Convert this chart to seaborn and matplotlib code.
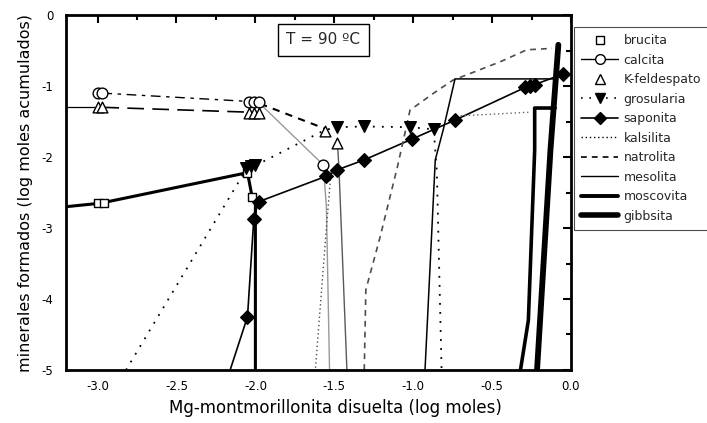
import matplotlib
matplotlib.use("Agg")
import matplotlib.pyplot as plt
import seaborn as sns
from matplotlib.lines import Line2D
from matplotlib.ticker import FixedLocator, FixedFormatter, MultipleLocator

# ---------------- data ----------------
xtick_vals = [-3.0, -2.5, -2.0, -1.5, -1.0, -0.5, 0.0]
xtick_labels = ["-3.0", "-2.5", "-2.0", "-1.5", "-1.0", "-0.5", "0.0"]
ytick_vals = [0, -1, -2, -3, -4, -5]
ytick_labels = ["0", "-1", "-2", "-3", "-4", "-5"]

legend_labels = ["brucita", "calcita", "K-feldespato", "grosularia", "saponita",
                 "kalsilita", "natrolita", "mesolita", "moscovita", "gibbsita"]

brucita_x = [-3.20, -2.98, -2.05, -2.02, -2.00, -2.00]
brucita_y = [-2.70, -2.65, -2.22, -2.57, -2.60, -5.00]
brucita_mx = [-3.00, -2.96, -2.05, -2.02]
brucita_my = [-2.65, -2.65, -2.22, -2.57]

calcita_a_x = [-2.97, -2.02]
calcita_a_y = [-1.10, -1.22]
calcita_b_x = [-1.98, -1.57, -1.55, -1.53]
calcita_b_y = [-1.23, -2.11, -2.70, -5.00]
calcita_mx = [-3.00, -2.97, -2.04, -2.01, -1.98, -1.57]
calcita_my = [-1.10, -1.10, -1.23, -1.23, -1.23, -2.11]

kfeld_a_x = [-3.20, -3.00]
kfeld_a_y = [-1.30, -1.30]
kfeld_b_x = [-2.97, -2.02]
kfeld_b_y = [-1.30, -1.37]
kfeld_c_x = [-1.48, -1.47, -1.42]
kfeld_c_y = [-1.80, -2.18, -5.00]
kfeld_mx = [-3.00, -2.97, -2.04, -2.01, -1.98, -1.56, -1.48]
kfeld_my = [-1.30, -1.30, -1.38, -1.38, -1.38, -1.64, -1.80]

gros_a_x = [-2.82, -2.06]
gros_a_y = [-5.00, -2.18]
gros_b_x = [-2.00, -1.56, -1.48, -1.31, -1.02, -0.87, -0.85, -0.82]
gros_b_y = [-2.12, -1.62, -1.58, -1.57, -1.58, -1.61, -2.20, -5.00]
gros_mx = [-2.06, -2.03, -2.00, -1.48, -1.31, -1.02, -0.87]
gros_my = [-2.16, -2.13, -2.11, -1.58, -1.57, -1.58, -1.61]

sapo_x = [-2.16, -2.05, -2.01, -1.98, -1.55, -1.48, -1.31, -1.01, -0.735,
          -0.29, -0.26, -0.23, -0.05]
sapo_y = [-5.00, -4.25, -2.87, -2.63, -2.27, -2.18, -2.04, -1.75, -1.48,
          -1.02, -1.00, -0.98, -0.83]

kals_a_x = [-1.52, -1.55, -1.62]
kals_a_y = [-2.20, -3.00, -5.00]
kals_b_x = [-0.70, -0.27]
kals_b_y = [-1.42, -1.37]

natro_a_x = [-1.97, -1.56]
natro_a_y = [-1.25, -1.60]
natro_b_x = [-1.31, -1.30, -1.21, -1.10, -1.02, -0.87, -0.75, -0.45, -0.28, -0.12]
natro_b_y = [-5.00, -3.87, -3.13, -2.14, -1.34, -1.10, -0.92, -0.66, -0.49, -0.47]

meso_x = [-0.925, -0.86, -0.81, -0.735, -0.11]
meso_y = [-5.00, -2.04, -1.62, -0.90, -0.90]

mosco_x = [-0.32, -0.27, -0.23, -0.23, -0.10]
mosco_y = [-5.00, -4.30, -1.90, -1.31, -1.31]

gibb_x = [-0.215, -0.13, -0.08]
gibb_y = [-5.00, -1.90, -0.42]

label_text = "T = 90 ºC"
label_pos = (-1.57, -0.35)

# ---------------- styling ----------------
sns.set_style("white")
plt.rcParams["font.family"] = ["DejaVu Sans"]
plt.rcParams["axes.unicode_minus"] = False

fig = plt.figure(figsize=(7.07, 4.23), dpi=100)
ax = fig.add_axes([0.0934, 0.1253, 0.7142, 0.8392])

DOT_SPARSE = (0, (1.0, 4.0))
DOT_FINE = (0, (1, 2))
DASH = (0, (3.5, 3))
LONGDASH = (0, (10, 5))
DASHDOT = (0, (7, 4, 2.5, 4))


def line(x, y, **kw):
    sns.lineplot(x=x, y=y, sort=False, estimator=None, errorbar=None,
                 legend=False, ax=ax, **kw)


def marks(x, y, marker, size, filled):
    fc = "black" if filled else "white"
    sns.scatterplot(x=x, y=y, marker=marker, s=size, facecolor=fc,
                    edgecolor="black", linewidth=1.0, legend=False, ax=ax,
                    zorder=5)


# lines
line(brucita_x, brucita_y, color="black", linewidth=2.2)
line(calcita_a_x, calcita_a_y, color="black", linewidth=1.0, linestyle=DASHDOT)
line(calcita_b_x, calcita_b_y, color="0.6", linewidth=1.0)
line(kfeld_a_x, kfeld_a_y, color="black", linewidth=0.9)
line(kfeld_b_x, kfeld_b_y, color="black", linewidth=1.2, linestyle=LONGDASH)
line(kfeld_c_x, kfeld_c_y, color="0.35", linewidth=1.0)
line(gros_a_x, gros_a_y, color="black", linewidth=1.3, linestyle=DOT_SPARSE)
line(gros_b_x, gros_b_y, color="black", linewidth=1.3, linestyle=DOT_SPARSE)
line(sapo_x, sapo_y, color="black", linewidth=1.2)
line(kals_a_x, kals_a_y, color="0.3", linewidth=1.0, linestyle=DOT_FINE)
line(kals_b_x, kals_b_y, color="0.4", linewidth=1.0, linestyle=DOT_FINE)
line(natro_a_x, natro_a_y, color="black", linewidth=1.5, linestyle=DASH)
line(natro_b_x, natro_b_y, color="0.3", linewidth=1.2, linestyle=DASH)
line(meso_x, meso_y, color="black", linewidth=1.1)
line(mosco_x, mosco_y, color="black", linewidth=2.6)
line(gibb_x, gibb_y, color="black", linewidth=4.2)

# markers
marks(brucita_mx, brucita_my, "s", 38, False)
marks(calcita_mx, calcita_my, "o", 60, False)
marks(kfeld_mx, kfeld_my, "^", 60, False)
marks(gros_mx, gros_my, "v", 70, True)
marks(sapo_x[1:], sapo_y[1:], "D", 48, True)

# text box
ax.text(label_pos[0], label_pos[1], label_text, fontsize=11, ha="center",
        va="center", zorder=6,
        bbox=dict(boxstyle="square,pad=0.55", facecolor="white",
                  edgecolor="black", linewidth=1.0))

# axes
ax.set_xlim(-3.2, 0.0)
ax.set_ylim(-5.0, 0.0)
ax.xaxis.set_major_locator(FixedLocator(xtick_vals))
ax.xaxis.set_major_formatter(FixedFormatter(xtick_labels))
ax.yaxis.set_major_locator(FixedLocator(ytick_vals))
ax.yaxis.set_major_formatter(FixedFormatter(ytick_labels))
ax.xaxis.set_minor_locator(MultipleLocator(0.25))
ax.yaxis.set_minor_locator(MultipleLocator(0.5))
ax.tick_params(which="both", direction="in", top=True, right=True,
               width=1.5, color="black", labelsize=8.5, labelcolor="black")
ax.tick_params(which="major", length=6, pad=7)
ax.tick_params(which="minor", length=3.5)
ax.tick_params(axis="y", which="major", pad=9)
for sp in ax.spines.values():
    sp.set_linewidth(2.0)
    sp.set_color("black")

ax.set_xlabel("Mg-montmorillonita disuelta (log moles)", fontsize=12,
              color="black", labelpad=6)
ax.xaxis.set_label_coords(0.534, -0.082)
ax.set_ylabel("minerales formados (log moles acumulados)", fontsize=11.5,
              color="black", labelpad=6)

# legend
handles = [
    Line2D([], [], linestyle="none", marker="s", markersize=6,
           markerfacecolor="white", markeredgecolor="black"),
    Line2D([], [], color="black", linewidth=1.0, marker="o", markersize=7,
           markerfacecolor="white", markeredgecolor="black"),
    Line2D([], [], linestyle="none", marker="^", markersize=7,
           markerfacecolor="white", markeredgecolor="black"),
    Line2D([], [], color="black", linewidth=1.2, linestyle=DOT_SPARSE,
           marker="v", markersize=7, markerfacecolor="black",
           markeredgecolor="black"),
    Line2D([], [], color="black", linewidth=1.2, marker="D", markersize=6,
           markerfacecolor="black", markeredgecolor="black"),
    Line2D([], [], color="black", linewidth=1.0, linestyle=DOT_FINE),
    Line2D([], [], color="black", linewidth=1.2, linestyle=DASH),
    Line2D([], [], color="black", linewidth=1.0),
    Line2D([], [], color="black", linewidth=2.8),
    Line2D([], [], color="black", linewidth=4.0),
]
leg = ax.legend(handles, legend_labels, loc="upper left",
                bbox_to_anchor=(1.006, 0.965), borderaxespad=0,
                fontsize=9, frameon=True, fancybox=False, framealpha=1,
                edgecolor="0.3", handlelength=3.0, handletextpad=0.4,
                labelspacing=0.52, borderpad=0.55)
leg.get_frame().set_linewidth(0.8)

fig.savefig("out.png", dpi=100)
